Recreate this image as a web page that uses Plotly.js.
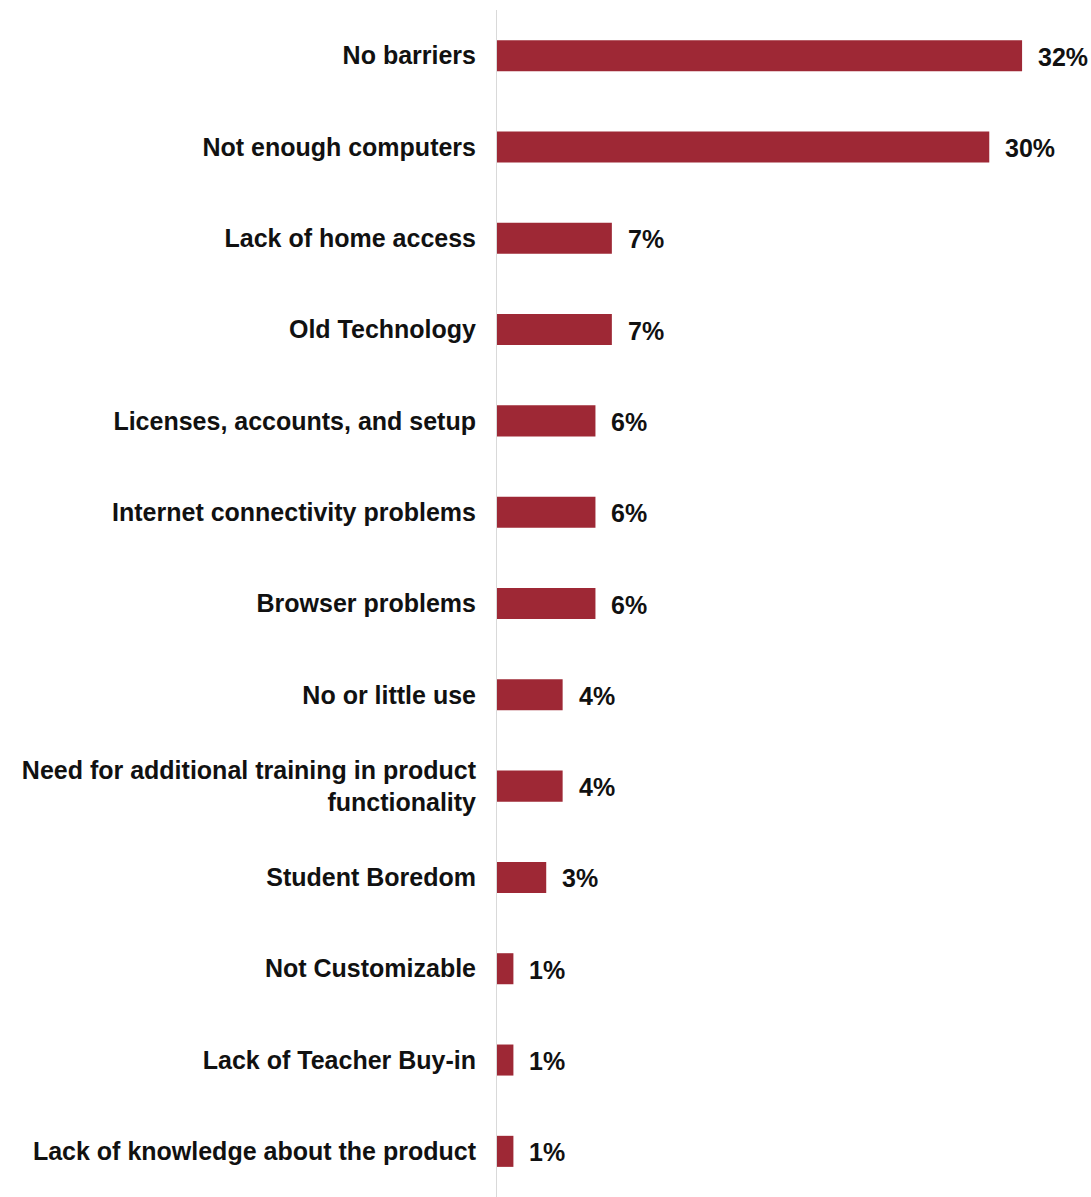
<!DOCTYPE html>
<html>
<head>
<meta charset="utf-8">
<script src="https://cdn.plot.ly/plotly-3.0.1.min.js"></script>
<style>html,body{margin:0;padding:0;background:#fff;}#chart{width:1091px;height:1197px;}</style>
</head>
<body>
<div id="chart"></div>
<script>
var categories = [
  "No barriers",
  "Not enough computers",
  "Lack of home access",
  "Old Technology",
  "Licenses, accounts, and setup",
  "Internet connectivity problems",
  "Browser problems",
  "No or little use",
  "Need for additional training in product<br>functionality",
  "Student Boredom",
  "Not Customizable",
  "Lack of Teacher Buy-in",
  "Lack of knowledge about the product"
];
var values = [32, 30, 7, 7, 6, 6, 6, 4, 4, 3, 1, 1, 1];
var valueLabels = values.map(function(v){ return v + "%"; });

var annotations = categories.map(function(c, i){
  return {
    x: values[i], y: c, xref: "x", yref: "y",
    text: valueLabels[i], showarrow: false,
    xanchor: "left", yanchor: "middle", xshift: 14, yshift: -1,
    font: {family: "Liberation Sans, Arial, sans-serif", size: 25, color: "#111111", weight: "bold"}
  };
});

var trace = {
  type: "bar",
  orientation: "h",
  y: categories,
  x: values,
  marker: {color: "#9E2835"},
  hoverinfo: "skip"
};

var layout = {
  width: 1091, height: 1197,
  margin: {l: 497, r: 0, t: 10, b: 0},
  paper_bgcolor: "#ffffff", plot_bgcolor: "#ffffff",
  bargap: 0.66,
  showlegend: false,
  font: {family: "Liberation Sans, Arial, sans-serif", size: 25, color: "#111111"},
  xaxis: {range: [0, 36.2], visible: false, showgrid: false, zeroline: false},
  yaxis: {
    autorange: "reversed",
    showline: true, linecolor: "#d9d9d9", linewidth: 1,
    showgrid: false, zeroline: false, ticks: "",
    ticklabelstandoff: 15,
    tickfont: {family: "Liberation Sans, Arial, sans-serif", size: 25, color: "#111111", weight: "bold"}
  },
  annotations: annotations
};

Plotly.newPlot("chart", [trace], layout, {displayModeBar: false, staticPlot: true});
</script>
</body>
</html>
